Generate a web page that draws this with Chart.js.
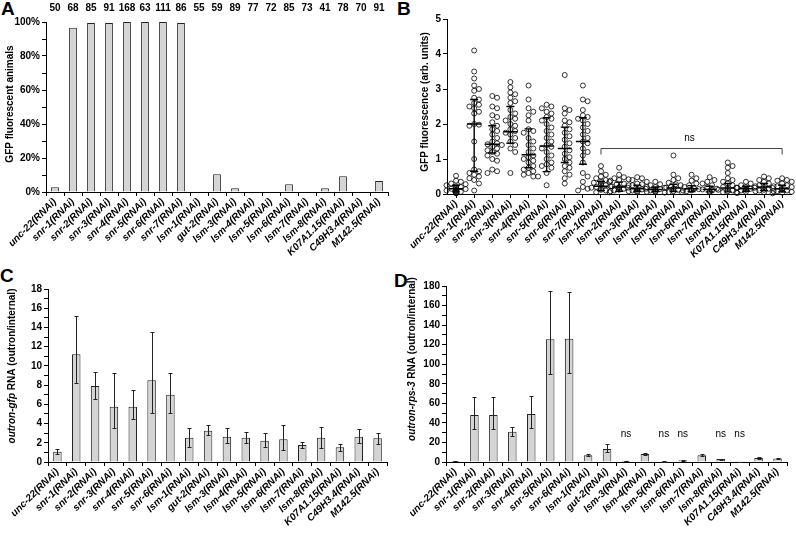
<!DOCTYPE html>
<html>
<head>
<meta charset="utf-8">
<script src="https://cdn.jsdelivr.net/npm/chart.js@4.4.1/dist/chart.umd.min.js"></script>
<style>
  body { margin: 0; background: #fff; width: 796px; height: 533px; position: relative; overflow: hidden;
         font-family: 'Liberation Sans', Arial, sans-serif; }
  canvas { position: absolute; }
  .letter { position: absolute; font-weight: bold; font-size: 19px; line-height: 19px; }
</style>
</head>
<body>
<div class="letter" style="left:1px;top:-1px">A</div>
<div class="letter" style="left:397px;top:-1px">B</div>
<div class="letter" style="left:0px;top:266px">C</div>
<div class="letter" style="left:394px;top:271px">D</div>

<canvas id="chartA" width="398" height="265" style="left:0;top:0"></canvas>
<canvas id="chartB" width="398" height="265" style="left:398px;top:0"></canvas>
<canvas id="chartC" width="398" height="268" style="left:0;top:265px"></canvas>
<canvas id="chartD" width="398" height="268" style="left:398px;top:265px"></canvas>

<script>
// ---- data ----
const catsA = ['unc-22(RNAi)', 'snr-1(RNAi)', 'snr-2(RNAi)', 'snr-3(RNAi)', 'snr-4(RNAi)', 'snr-5(RNAi)',
  'snr-6(RNAi)', 'snr-7(RNAi)', 'lsm-1(RNAi)', 'gut-2(RNAi)', 'lsm-3(RNAi)', 'lsm-4(RNAi)', 'lsm-5(RNAi)',
  'lsm-6(RNAi)', 'lsm-7(RNAi)', 'lsm-8(RNAi)', 'K07A1.15(RNAi)', 'C49H3.4(RNAi)', 'M142.5(RNAi)'];
const countsA = [50, 68, 85, 91, 168, 63, 111, 86, 55, 59, 89, 77, 72, 85, 73, 41, 78, 70, 91];
const percentA = [2.8, 96.6, 99.4, 99.4, 100, 100, 100, 99.4, 0, 10.4, 2.2, 0, 0, 4.5, 0, 2.2, 9.2, 0, 6.5];

const catsB = ['unc-22(RNAi)', 'snr-1(RNAi)', 'snr-2(RNAi)', 'snr-3(RNAi)', 'snr-4(RNAi)', 'snr-5(RNAi)',
  'snr-6(RNAi)', 'snr-7(RNAi)', 'lsm-1(RNAi)', 'lsm-2(RNAi)', 'lsm-3(RNAi)', 'lsm-4(RNAi)', 'lsm-5(RNAi)',
  'lsm-6(RNAi)', 'lsm-7(RNAi)', 'lsm-8(RNAi)', 'K07A1.15(RNAi)', 'C49H3.4(RNAi)', 'M142.5(RNAi)'];
const pointsB = [
  [0.52, 0.38, 0.35, 0.3, 0.28, 0.25, 0.22, 0.2, 0.18, 0.17, 0.15, 0.14, 0.12, 0.1, 0.1, 0.08, 0.06, 0.05, 0.03, 0.02],
  [4.1, 3.5, 3.3, 3.1, 3.0, 2.95, 2.75, 2.7, 2.6, 2.55, 2.5, 2.45, 2.35, 2.3, 2.0, 1.98, 1.95, 1.5, 1.0, 0.7, 0.65, 0.6, 0.55, 0.5, 0.45, 0.4, 0.3, 0.1],
  [2.8, 2.75, 2.5, 2.45, 2.25, 2.2, 2.05, 1.95, 1.85, 1.8, 1.7, 1.6, 1.5, 1.45, 1.42, 1.4, 1.35, 1.3, 1.25, 1.2, 1.15, 1.1, 1.0, 0.95, 0.7, 0.65, 0.6],
  [3.2, 3.05, 2.9, 2.85, 2.75, 2.65, 2.6, 2.4, 2.3, 2.2, 2.15, 2.1, 2.0, 1.95, 1.85, 1.8, 1.75, 1.7, 1.6, 1.5, 1.4, 1.3, 1.2, 0.6],
  [3.1, 2.7, 2.45, 2.35, 2.25, 2.1, 1.85, 1.8, 1.75, 1.6, 1.5, 1.4, 1.3, 1.2, 1.1, 1.05, 1.0, 0.95, 0.9, 0.8, 0.75, 0.7, 0.65, 0.6, 0.55, 0.5, 0.5],
  [2.55, 2.5, 2.45, 2.35, 2.3, 2.2, 2.15, 2.1, 2.0, 1.9, 1.8, 1.7, 1.6, 1.5, 1.4, 1.35, 1.3, 1.2, 1.1, 1.0, 0.9, 0.85, 0.8, 0.75, 0.6, 0.25],
  [3.4, 2.45, 2.4, 2.3, 2.1, 2.05, 1.95, 1.85, 1.75, 1.65, 1.55, 1.45, 1.35, 1.25, 1.15, 1.05, 1.0, 0.9, 0.8, 0.75, 0.65, 0.55, 0.45, 0.3],
  [3.1, 2.7, 2.65, 2.4, 2.25, 2.2, 2.15, 2.1, 2.0, 1.9, 1.8, 1.7, 1.6, 1.5, 1.45, 1.3, 1.2, 1.1, 0.9, 0.6, 0.5, 0.35, 0.2, 0.15, 0.1],
  [0.8, 0.65, 0.55, 0.5, 0.45, 0.4, 0.38, 0.35, 0.32, 0.3, 0.28, 0.25, 0.22, 0.2, 0.18, 0.15, 0.12, 0.1, 0.08, 0.05],
  [0.75, 0.55, 0.48, 0.45, 0.42, 0.4, 0.35, 0.3, 0.28, 0.25, 0.22, 0.2, 0.18, 0.15, 0.12, 0.1, 0.08, 0.05],
  [0.48, 0.45, 0.4, 0.35, 0.3, 0.28, 0.25, 0.2, 0.18, 0.15, 0.13, 0.12, 0.1, 0.08, 0.06, 0.05],
  [0.35, 0.28, 0.25, 0.2, 0.18, 0.15, 0.14, 0.12, 0.1, 0.08, 0.06, 0.04],
  [1.1, 0.55, 0.45, 0.4, 0.32, 0.28, 0.25, 0.2, 0.18, 0.15, 0.12, 0.1, 0.08, 0.05],
  [0.55, 0.45, 0.38, 0.3, 0.25, 0.2, 0.16, 0.14, 0.12, 0.1, 0.08, 0.05],
  [0.48, 0.4, 0.35, 0.3, 0.25, 0.2, 0.15, 0.13, 0.1, 0.08, 0.05],
  [0.9, 0.8, 0.75, 0.6, 0.45, 0.4, 0.35, 0.3, 0.25, 0.2, 0.18, 0.15, 0.12, 0.1, 0.08, 0.05, 0.03],
  [0.35, 0.3, 0.25, 0.22, 0.2, 0.18, 0.15, 0.13, 0.12, 0.1, 0.08, 0.06, 0.04],
  [0.5, 0.45, 0.4, 0.35, 0.3, 0.25, 0.22, 0.2, 0.18, 0.15, 0.12, 0.1, 0.08, 0.05],
  [0.45, 0.4, 0.38, 0.35, 0.3, 0.25, 0.22, 0.2, 0.17, 0.15, 0.12, 0.1, 0.08, 0.06, 0.04, 0.02]
];
const meanB  = [0.15, 2.0, 1.42, 1.78, 1.12, 1.37, 1.3, 1.5, 0.22, 0.2, 0.15, 0.13, 0.17, 0.15, 0.13, 0.17, 0.15, 0.2, 0.15];
const errLoB = [0.06, 0.65, 1.17, 1.45, 0.75, 0.64, 0.9, 0.85, 0.1, 0.08, 0.08, 0.07, 0.07, 0.07, 0.06, 0.06, 0.08, 0.1, 0.06];
const errHiB = [0.25, 2.7, 1.95, 2.5, 1.86, 2.18, 1.91, 2.18, 0.36, 0.34, 0.25, 0.2, 0.28, 0.24, 0.22, 0.3, 0.22, 0.3, 0.25];
const nsBracketB = { from: 8, to: 18, value: 1.31, label: 'ns' };

const catsCD = ['unc-22(RNAi)', 'snr-1(RNAi)', 'snr-2(RNAi)', 'snr-3(RNAi)', 'snr-4(RNAi)', 'snr-5(RNAi)',
  'snr-6(RNAi)', 'lsm-1(RNAi)', 'gut-2(RNAi)', 'lsm-3(RNAi)', 'lsm-4(RNAi)', 'lsm-5(RNAi)', 'lsm-6(RNAi)',
  'lsm-7(RNAi)', 'lsm-8(RNAi)', 'K07A1.15(RNAi)', 'C49H3.4(RNAi)', 'M142.5(RNAi)'];
const ratioC = [1.07, 11.2, 7.9, 5.76, 5.76, 8.5, 7.0, 2.53, 3.26, 2.64, 2.53, 2.22, 2.36, 1.77, 2.53, 1.53, 2.64, 2.46];
const errLoC = [0.85, 8.26, 6.6, 3.5, 4.5, 5.1, 5.1, 1.6, 2.8, 1.95, 2.0, 1.6, 1.3, 1.42, 1.42, 1.18, 2.0, 1.84];
const errHiC = [1.32, 15.2, 9.4, 9.24, 7.47, 13.5, 9.24, 3.5, 3.9, 3.57, 3.16, 2.98, 3.9, 2.1, 3.6, 1.84, 3.44, 2.98];

const ratioD = [1, 48, 48, 31, 49, 125.5, 126, 7, 13.3, 1.2, 8.2, 0.5, 1.8, 7, 3, 0.3, 4, 3.5];
const errLoD = [0.8, 34, 34, 27, 35, 90, 91, 6, 10.5, 0.9, 7, 0.4, 1.3, 6, 2.5, 0.2, 3.3, 3];
const errHiD = [1.2, 66, 66, 36, 68, 175, 174, 8.5, 18, 1.5, 9.5, 0.6, 2.3, 8, 3.5, 0.4, 4.7, 4];
const nsD = ['', '', '', '', '', '', '', '', '', 'ns', '', 'ns', 'ns', '', 'ns', 'ns', '', ''];
const nsValueD = 28;

// ---- shared look ----
const FONT = "'Liberation Sans', Arial, sans-serif";
Chart.defaults.font.family = FONT;
Chart.defaults.color = '#000';
Chart.defaults.animation = false;

function yAxis(min, max, step, major, fmt, width) {
  return {
    min: min, max: max,
    afterFit: s => { s.width = width; },
    border: { color: '#000', width: 1 },
    grid: { drawOnChartArea: false, tickLength: 4, color: '#000' },
    ticks: {
      stepSize: step, autoSkip: false, padding: 2,
      font: { weight: 'bold', size: 10 },
      callback: v => (Math.round(v / step) % Math.round(major / step) === 0 ? fmt(v) : '')
    }
  };
}

function xCategory(height) {
  return {
    afterFit: s => { s.height = height; },
    border: { color: '#000', width: 1 },
    grid: { drawOnChartArea: false, tickLength: 4, color: '#000', offset: true },
    ticks: { autoSkip: false, minRotation: 45, maxRotation: 45, padding: 0,
             font: { style: 'italic', weight: 'bold', size: 10 } }
  };
}

// y axis title, parts can be italic
function yTitle(parts, x, y) {
  return {
    id: 'yTitle',
    afterDraw(chart) {
      const ctx = chart.ctx;
      const fonts = parts.map(p => (p[1] ? 'italic ' : '') + 'bold 10px ' + FONT);
      ctx.save();
      let total = 0;
      const widths = parts.map((p, i) => {
        ctx.font = fonts[i];
        const w = ctx.measureText(p[0]).width;
        total += w;
        return w;
      });
      ctx.translate(x, y);
      ctx.rotate(-Math.PI / 2);
      ctx.fillStyle = '#000';
      ctx.textBaseline = 'middle';
      ctx.textAlign = 'left';
      let pos = -total / 2;
      parts.forEach((p, i) => {
        ctx.font = fonts[i];
        ctx.fillText(p[0], pos, 0);
        pos += widths[i];
      });
      ctx.restore();
    }
  };
}

function barErrors(lo, hi) {
  return {
    id: 'barErrors',
    afterDatasetsDraw(chart) {
      const ctx = chart.ctx, y = chart.scales.y;
      const bars = chart.getDatasetMeta(0).data;
      ctx.save();
      ctx.strokeStyle = '#222';
      ctx.lineWidth = 1;
      bars.forEach((b, i) => {
        const x = Math.round(b.x) + 0.5;
        const top = Math.round(y.getPixelForValue(hi[i])) + 0.5;
        const bot = Math.round(y.getPixelForValue(lo[i])) + 0.5;
        ctx.beginPath();
        ctx.moveTo(x, top); ctx.lineTo(x, bot);
        ctx.moveTo(x - 2, top); ctx.lineTo(x + 2, top);
        ctx.moveTo(x - 2, bot); ctx.lineTo(x + 2, bot);
        ctx.stroke();
      });
      ctx.restore();
    }
  };
}

// texts over categories: either at a fixed pixel row or at a data value
function textsOver(texts, opts) {
  return {
    id: 'textsOver',
    afterDraw(chart) {
      const ctx = chart.ctx, x = chart.scales.x, y = chart.scales.y;
      ctx.save();
      ctx.font = (opts.bold ? 'bold ' : '') + '10px ' + FONT;
      ctx.fillStyle = '#000';
      ctx.textAlign = 'center';
      ctx.textBaseline = 'middle';
      texts.forEach((t, i) => {
        if (!t && t !== 0) return;
        const py = opts.row !== undefined ? opts.row : y.getPixelForValue(opts.value);
        ctx.fillText(String(t), x.getPixelForValue(i), py);
      });
      ctx.restore();
    }
  };
}

// ---- A ----
new Chart(document.getElementById('chartA'), {
  type: 'bar',
  data: {
    labels: catsA,
    datasets: [{ data: percentA, backgroundColor: '#d4d4d4', borderColor: '#222', borderWidth: 1,
                 barPercentage: 0.9, categoryPercentage: 0.48 }]
  },
  options: {
    responsive: false,
    layout: { padding: { top: 22, right: 10, left: 0, bottom: 0 } },
    plugins: { legend: { display: false }, tooltip: { enabled: false } },
    scales: {
      x: xCategory(73),
      y: yAxis(0, 100, 10, 20, v => v + '%', 46)
    }
  },
  plugins: [textsOver(countsA, { row: 8, bold: true }),
            yTitle([['GFP fluorescent animals', false]], 10, 104)]
});

// ---- B ----
function swarm(values, cat) {
  const pxY = 35, pxX = 18.2, gap = 4.6;
  const placed = [];
  return values.slice().sort((a, b) => b - a).map(v => {
    const py = v * pxY;
    let dx = 0;
    for (let k = 0; k < 9; k++) {
      const cand = (k % 2 ? 1 : -1) * Math.ceil(k / 2) * 2.4;
      if (placed.every(p => Math.hypot(p.x - cand, p.y - py) >= gap)) { dx = cand; break; }
    }
    placed.push({ x: dx, y: py });
    return { x: cat + dx / pxX, y: v };
  });
}

const meanSdB = {
  id: 'meanSd',
  afterDatasetsDraw(chart) {
    const ctx = chart.ctx, x = chart.scales.x, y = chart.scales.y;
    ctx.save();
    ctx.strokeStyle = '#000';
    ctx.lineWidth = 1.4;
    meanB.forEach((m, i) => {
      const px = x.getPixelForValue(i);
      const pm = y.getPixelForValue(m), pt = y.getPixelForValue(errHiB[i]), pb = y.getPixelForValue(errLoB[i]);
      ctx.beginPath();
      ctx.moveTo(px - 7, pm); ctx.lineTo(px + 7, pm);
      ctx.moveTo(px, pt); ctx.lineTo(px, pb);
      ctx.moveTo(px - 4, pt); ctx.lineTo(px + 4, pt);
      ctx.moveTo(px - 4, pb); ctx.lineTo(px + 4, pb);
      ctx.stroke();
    });
    // ns bracket
    const x1 = x.getPixelForValue(nsBracketB.from), x2 = x.getPixelForValue(nsBracketB.to);
    const by = Math.round(y.getPixelForValue(nsBracketB.value)) + 0.5;
    ctx.lineWidth = 1;
    ctx.strokeStyle = '#444';
    ctx.beginPath();
    ctx.moveTo(x1, by + 6); ctx.lineTo(x1, by); ctx.lineTo(x2, by); ctx.lineTo(x2, by + 6);
    ctx.stroke();
    ctx.font = '10px ' + FONT;
    ctx.fillStyle = '#000';
    ctx.textAlign = 'center';
    ctx.textBaseline = 'middle';
    ctx.fillText(nsBracketB.label, (x1 + x2) / 2 - 2, by - 10);
    ctx.restore();
  }
};

new Chart(document.getElementById('chartB'), {
  type: 'scatter',
  data: {
    datasets: [{
      data: pointsB.flatMap((vals, i) => swarm(vals, i)),
      pointRadius: 2.5, pointBorderWidth: 0.8, pointBorderColor: '#000',
      pointBackgroundColor: 'rgba(255,255,255,0)', clip: false
    }]
  },
  options: {
    responsive: false,
    layout: { padding: { top: 19, right: 3, left: 0, bottom: 0 } },
    plugins: { legend: { display: false }, tooltip: { enabled: false } },
    scales: {
      x: {
        type: 'linear', min: -0.5, max: 18.5,
        afterFit: s => { s.height = 71; },
        afterBuildTicks: s => { s.ticks = catsB.map((c, i) => ({ value: i })); },
        border: { color: '#000', width: 1 },
        grid: { drawOnChartArea: false, tickLength: 4, color: '#000' },
        ticks: { autoSkip: false, minRotation: 45, maxRotation: 45, padding: 0,
                 font: { style: 'italic', weight: 'bold', size: 10 },
                 callback: v => catsB[v] }
      },
      y: yAxis(0, 5, 1, 1, v => v, 49)
    }
  },
  plugins: [meanSdB, yTitle([['GFP fluorescence (arb. units)', false]], 27, 102)]
});

// ---- C ----
new Chart(document.getElementById('chartC'), {
  type: 'bar',
  data: {
    labels: catsCD,
    datasets: [{ data: ratioC, backgroundColor: '#d4d4d4', borderColor: '#222', borderWidth: 1,
                 barPercentage: 0.9, categoryPercentage: 0.5 }]
  },
  options: {
    responsive: false,
    layout: { padding: { top: 24, right: 11, left: 0, bottom: 0 } },
    plugins: { legend: { display: false }, tooltip: { enabled: false } },
    scales: {
      x: xCategory(71),
      y: yAxis(0, 18, 1, 2, v => v, 48)
    }
  },
  plugins: [barErrors(errLoC, errHiC),
            yTitle([['outron-gfp', true], [' RNA (outron/internal)', false]], 12, 101)]
});

// ---- D ----
new Chart(document.getElementById('chartD'), {
  type: 'bar',
  data: {
    labels: catsCD,
    datasets: [{ data: ratioD, backgroundColor: '#d4d4d4', borderColor: '#222', borderWidth: 1,
                 barPercentage: 0.9, categoryPercentage: 0.5 }]
  },
  options: {
    responsive: false,
    layout: { padding: { top: 21, right: 9, left: 0, bottom: 0 } },
    plugins: { legend: { display: false }, tooltip: { enabled: false } },
    scales: {
      x: xCategory(71),
      y: yAxis(0, 180, 10, 20, v => v, 48)
    }
  },
  plugins: [barErrors(errLoD, errHiD), textsOver(nsD, { value: nsValueD, bold: false }),
            yTitle([['outron-rps-3', true], [' RNA (outron/internal)', false]], 14, 94)]
});
</script>
</body>
</html>
